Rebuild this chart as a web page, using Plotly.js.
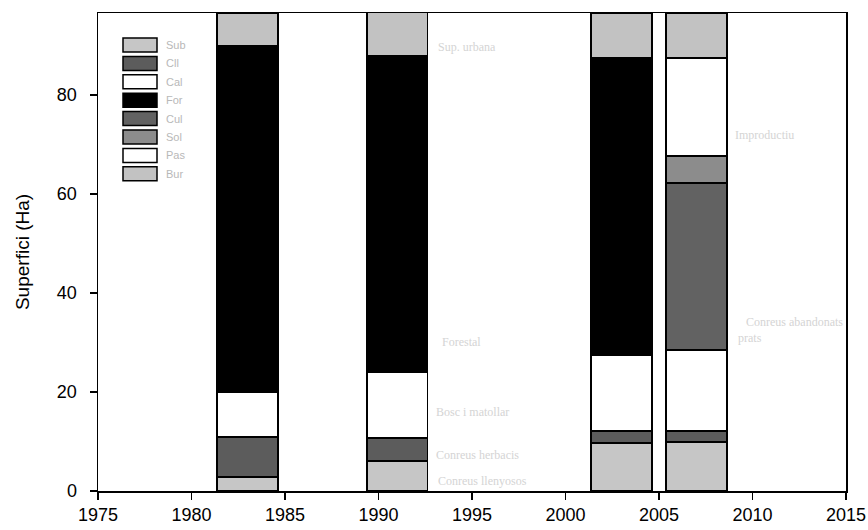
<!DOCTYPE html>
<html>
<head>
<meta charset="utf-8">
<script src="https://cdn.plot.ly/plotly-3.0.1.min.js"></script>
<style>html,body{margin:0;padding:0;background:#fff;}#chart{width:868px;height:530px;}</style>
</head>
<body>
<div id="chart"></div>
<script>
// Data
var years = [1983, 1991, 2003, 2007];
var seriesNames = ["Sub", "Cll", "Cal", "For", "Cul", "Sol", "Pas", "Bur"];
var s1 = [2.8, 6.1, 9.7, 9.9];
var s2 = [8.1, 4.6, 2.4, 2.2];
var s3 = [9.1, 13.3, 15.4, 16.4];
var s4 = [70.0, 64.0, 60.0, 0];
var s5 = [0, 0, 0, 33.7];
var s6 = [0, 0, 0, 5.5];
var s7 = [0, 0, 0, 19.8];
var s8 = [6.6, 8.7, 9.1, 9.1];
var seriesValues = [s1, s2, s3, s4, s5, s6, s7, s8];
var seriesColors = ["#c6c6c6", "#5c5c5c", "#ffffff", "#000000", "#626262", "#8c8c8c", "#ffffff", "#c2c2c2"];
var yTicks = [0, 20, 40, 60, 80];
var xTicks = [1975, 1980, 1985, 1990, 1995, 2000, 2005, 2010, 2015];
var faintLabels = ["Sup. urbana", "Forestal", "Bosc i matollar", "Conreus herbacis", "Conreus llenyosos", "Improductiu", "Conreus abandonats", "prats"];

var traces = seriesValues.map(function (vals, i) {
  return {
    type: "bar",
    x: years,
    y: vals,
    name: seriesNames[i],
    width: 3.25,
    marker: { color: seriesColors[i], line: { color: "#000", width: 1.5 } },
    showlegend: false,
    hoverinfo: "x+y+name"
  };
});

// Layout geometry (pixels -> paper)
var L = 98, R = 846, T = 13, B = 491;
function px(x) { return (x - L) / (R - L); }
function py(y) { return (B - y) / (B - T); }

var shapes = [];
var annotations = [];
// custom legend
for (var i = 0; i < seriesNames.length; i++) {
  var rowTop = 38 + i * 18.4;
  shapes.push({
    type: "rect", xref: "paper", yref: "paper",
    x0: px(123), x1: px(157), y0: py(rowTop + 14), y1: py(rowTop),
    fillcolor: seriesColors[i], line: { color: "#000", width: 1.5 }
  });
  annotations.push({
    xref: "paper", yref: "paper", x: px(164), y: py(rowTop + 7),
    xanchor: "left", yanchor: "middle", showarrow: false,
    text: seriesNames[i], font: { family: "Liberation Sans, Arial", size: 11, color: "#b8b8b8" }
  });
}
// faint labels
var faintPos = [[436, 47], [440, 342], [434, 412], [434, 455], [436, 481], [733, 135], [744, 322], [736, 338]];
for (var j = 0; j < faintLabels.length; j++) {
  annotations.push({
    xref: "paper", yref: "paper", x: px(faintPos[j][0]), y: py(faintPos[j][1]),
    xanchor: "left", yanchor: "middle", showarrow: false,
    text: faintLabels[j], font: { family: "Liberation Serif, serif", size: 12, color: "#d4d4d4" }
  });
}

var layout = {
  width: 868, height: 530,
  margin: { l: L, r: 868 - R, t: T, b: 530 - B, pad: 0 },
  paper_bgcolor: "#fff", plot_bgcolor: "#fff",
  barmode: "stack",
  showlegend: false,
  font: { family: "Liberation Sans, Arial, sans-serif", size: 18, color: "#000" },
  xaxis: {
    range: [1975, 2015], tickvals: xTicks, ticktext: xTicks.map(String),
    showgrid: false, zeroline: false, showline: true, linecolor: "#000", linewidth: 1.5,
    mirror: true, ticks: "outside", ticklen: 7, tickwidth: 1.5, tickcolor: "#000",
    tickfont: { size: 18 }
  },
  yaxis: {
    range: [0, 96.6], tickvals: yTicks, ticktext: yTicks.map(String),
    showgrid: false, zeroline: false, showline: true, linecolor: "#000", linewidth: 1.5,
    mirror: true, ticks: "outside", ticklen: 7, tickwidth: 1.5, tickcolor: "#000",
    ticklabelstandoff: 9,
    tickfont: { size: 18 },
    title: { text: "Superfici (Ha)", font: { size: 19 }, standoff: 22 }
  },
  shapes: shapes,
  annotations: annotations
};

Plotly.newPlot("chart", traces, layout, { displayModeBar: false, staticPlot: true });
</script>
</body>
</html>
